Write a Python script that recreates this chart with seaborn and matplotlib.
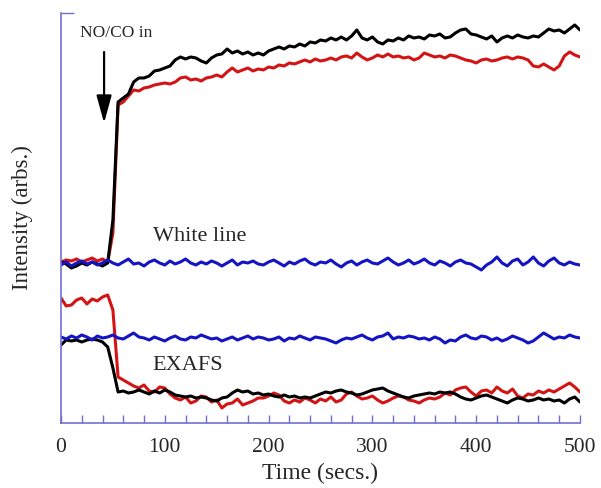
import numpy as np
import pandas as pd
import matplotlib
matplotlib.use('Agg')
import matplotlib.pyplot as plt
import seaborn as sns
from matplotlib.ticker import MultipleLocator

# time axis, one reading every 5 s
time_s = np.arange(0, 501, 5)

# white line, three runs (arbitrary units)
wl_black = [161, 159, 155, 157, 160, 158, 161, 159, 157, 160,
            203, 321, 325, 329, 341, 345, 345, 347, 352, 353,
            355, 357, 363, 366, 364, 366, 365, 362, 360, 365,
            368, 369, 374, 370, 372, 369, 371, 368, 370, 368,
            372, 374, 376, 374, 377, 376, 379, 377, 381, 380,
            383, 382, 385, 383, 386, 383, 387, 393, 385, 383,
            386, 381, 379, 383, 382, 385, 383, 387, 385, 386,
            384, 388, 387, 389, 385, 386, 390, 393, 394, 389,
            388, 386, 384, 387, 381, 385, 387, 385, 388, 386,
            385, 387, 386, 390, 394, 392, 393, 390, 394, 398,
            393]
wl_red = [161, 163, 162, 164, 161, 163, 165, 162, 164, 161,
          190, 318, 321, 327, 333, 332, 335, 336, 338, 339,
          340, 339, 341, 345, 346, 343, 344, 342, 345, 346,
          348, 346, 351, 355, 351, 353, 355, 352, 354, 353,
          356, 355, 358, 357, 360, 359, 361, 363, 361, 364,
          362, 363, 365, 363, 366, 367, 365, 370, 366, 363,
          365, 368, 366, 369, 366, 367, 365, 366, 363, 365,
          370, 368, 366, 367, 365, 368, 367, 365, 363, 362,
          360, 363, 364, 362, 363, 365, 366, 364, 366, 365,
          363, 357, 356, 359, 356, 353, 357, 367, 371, 368,
          366]
wl_blue = [158, 161, 157, 160, 162, 159, 161, 158, 160, 163,
           160, 158, 161, 164, 159, 160, 157, 161, 163, 160,
           158, 162, 159, 161, 164, 160, 158, 161, 159, 162,
           160, 157, 160, 163, 158, 161, 160, 162, 159, 158,
           161, 163, 160, 157, 161, 159, 162, 164, 160, 158,
           161, 160, 163, 159, 156, 160, 162, 158, 161, 163,
           160, 159, 162, 165, 161, 158, 160, 163, 159, 161,
           164, 160, 158, 162, 160, 157, 161, 163, 160, 159,
           156, 153, 158, 161, 166, 160, 157, 162, 164, 158,
           161, 166, 160, 157, 162, 165, 160, 158, 161, 159,
           158]

# EXAFS, three runs
ex_red = [125, 117, 118, 123, 125, 119, 124, 122, 126, 128,
          113, 46, 43, 40, 37, 35, 38, 32, 31, 36,
          35, 29, 25, 23, 26, 20, 22, 27, 26, 21,
          23, 15, 19, 20, 24, 18, 20, 22, 25, 25,
          27, 30, 28, 22, 20, 23, 21, 25, 23, 20,
          24, 22, 26, 21, 23, 29, 31, 27, 24, 25,
          27, 23, 20, 22, 25, 27, 26, 23, 22, 20,
          23, 25, 24, 26, 30, 28, 33, 35, 36, 31,
          27, 32, 33, 30, 36, 32, 30, 34, 27, 25,
          29, 28, 32, 30, 33, 31, 34, 37, 40, 36,
          31]
ex_black = [78, 83, 82, 83, 81, 83, 84, 83, 81, 76,
            55, 31, 32, 30, 31, 33, 31, 29, 32, 30,
            33, 31, 28, 27, 26, 27, 25, 26, 25, 23,
            22, 25, 26, 30, 33, 31, 32, 29, 30, 28,
            29, 27, 26, 28, 26, 27, 25, 26, 25, 27,
            29, 31, 30, 32, 33, 31, 30, 28, 29, 31,
            33, 34, 35, 32, 30, 28, 26, 25, 27, 28,
            29, 30, 29, 31, 30, 31, 29, 26, 24, 23,
            25, 27, 28, 26, 24, 22, 20, 23, 25, 24,
            22, 23, 25, 23, 24, 22, 23, 20, 24, 26,
            21]
ex_blue = [86, 84, 87, 85, 88, 86, 83, 87, 85, 86,
           88, 85, 84, 87, 90, 86, 85, 83, 86, 84,
           82, 85, 87, 84, 83, 86, 85, 88, 86, 84,
           85, 82, 84, 86, 83, 85, 87, 84, 86, 85,
           83, 84, 86, 82, 85, 84, 87, 85, 83, 86,
           85, 84, 82, 80, 83, 85, 84, 86, 88, 85,
           83, 86, 87, 90, 84, 86, 85, 87, 86, 84,
           85, 83, 86, 84, 80, 83, 82, 86, 88, 85,
           84, 87, 86, 83, 85, 82, 84, 87, 85, 83,
           80, 82, 86, 90, 87, 84, 86, 85, 88, 86,
           85]

RED = '#d41414'
BLUE = '#1414c4'
AXC = '#7070d4'

sns.set_style('ticks')
plt.rcParams['font.family'] = ['Liberation Serif', 'DejaVu Serif']

fig = plt.figure(figsize=(6.01, 4.88), dpi=100)
ax = fig.add_axes([0.1015, 0.1332, 0.8635, 0.8402])

series = [(wl_red, RED), (wl_black, 'black'), (wl_blue, BLUE),
          (ex_red, RED), (ex_black, 'black'), (ex_blue, BLUE)]
for vals, col in series:
    df = pd.DataFrame({'t': time_s, 'I': vals})
    sns.lineplot(data=df, x='t', y='I', color=col, linewidth=2.2,
                 estimator=None, ax=ax)

ax.set_xlim(0, 500)
ax.set_ylim(0, 410)

ax.xaxis.set_major_locator(MultipleLocator(100))
ax.xaxis.set_minor_locator(MultipleLocator(20))
ax.tick_params(axis='x', which='both', direction='in', length=6,
               width=1, color=AXC, labelsize=15.5, pad=11)
ax.set_yticks([410])
ax.set_yticklabels([])
ax.tick_params(axis='y', direction='in', length=9, width=1, color=AXC)

for side in ['top', 'right']:
    ax.spines[side].set_visible(False)
for side in ['left', 'bottom']:
    ax.spines[side].set_color(AXC)
    ax.spines[side].set_linewidth(1.2)

ax.set_xlabel('Time (secs.)', fontsize=17, labelpad=4)
ax.set_ylabel('Intensity (arbs.)', fontsize=16.5, labelpad=17)

ax.text(53, 390, 'NO/CO in', fontsize=12.5, ha='center', va='center')
ax.annotate('', xy=(41.5, 300), xytext=(41.5, 371),
            arrowprops=dict(arrowstyle='-|>,head_length=1.2,head_width=0.33',
                            mutation_scale=14, color='black', lw=1.6,
                            shrinkA=0, shrinkB=0))
ax.text(134, 186, 'White line', fontsize=16, ha='center', va='center')
ax.text(122.5, 57, 'EXAFS', fontsize=16, ha='center', va='center')

fig.savefig('out.png', dpi=100)
